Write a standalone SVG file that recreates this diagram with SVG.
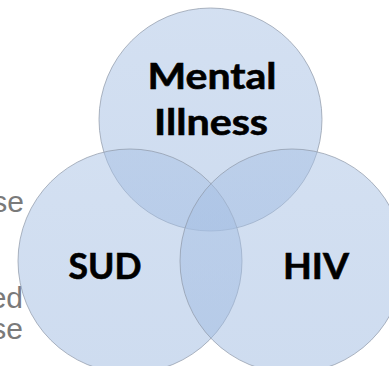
<svg xmlns="http://www.w3.org/2000/svg" width="389" height="366" viewBox="0 0 389 366">
  <defs>
    <linearGradient id="fillGrad" x1="0" y1="0" x2="0" y2="1">
      <stop offset="0" stop-color="#a8c1e4"/>
      <stop offset="1" stop-color="#9db9e0"/>
    </linearGradient>
  </defs>
  <style>
    .circle { fill: url(#fillGrad); fill-opacity: 0.5; stroke: #8d97a6; stroke-opacity: 0.7; stroke-width: 1; }
    .label { font-family: Lato, "Open Sans", "Liberation Sans", sans-serif; font-weight: bold; font-size: 36px; fill: #000000; stroke: #000000; stroke-width: 0.6; text-anchor: middle; }
    .side { font-family: "Liberation Sans", Arial, sans-serif; font-size: 30px; fill: #7a7a7a; text-anchor: end; }
  </style>
  <rect width="389" height="366" fill="#ffffff"/>
  <g id="side-text">
    <text class="side" x="24" y="212">se</text>
    <text class="side" x="23" y="308">ed</text>
    <text class="side" x="23" y="339">se</text>
  </g>
  <g id="connectors"></g>
  <g id="node-mental-illness">
    <circle class="circle" cx="210.5" cy="119.5" r="111.5"/>
  </g>
  <g id="node-sud">
    <circle class="circle" cx="130" cy="261" r="112"/>
  </g>
  <g id="node-hiv">
    <circle class="circle" cx="292" cy="261" r="112"/>
  </g>
  <g id="labels">
    <text class="label" x="212" y="89" textLength="129" lengthAdjust="spacingAndGlyphs">Mental</text>
    <text class="label" x="211" y="135" textLength="114" lengthAdjust="spacingAndGlyphs">Illness</text>
    <text class="label" x="105" y="279" textLength="73" lengthAdjust="spacingAndGlyphs">SUD</text>
    <text class="label" x="316" y="279" textLength="66" lengthAdjust="spacingAndGlyphs">HIV</text>
  </g>
</svg>
